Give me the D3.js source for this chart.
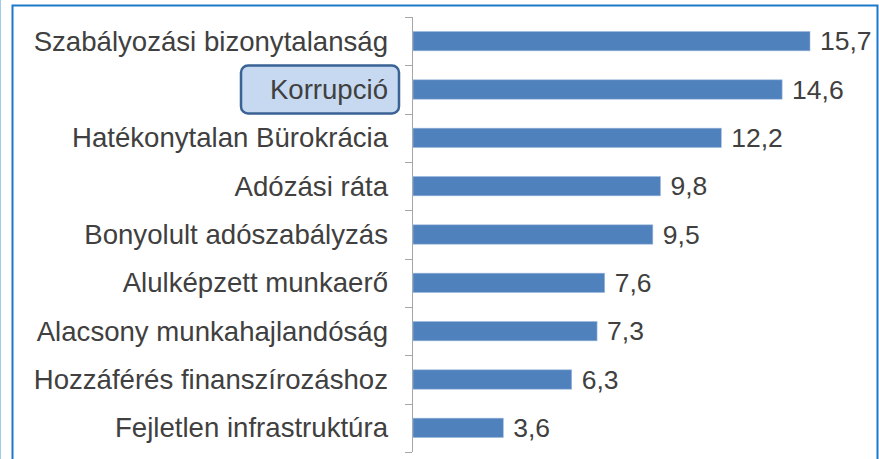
<!DOCTYPE html>
<html><head><meta charset="utf-8">
<script src="https://cdn.jsdelivr.net/npm/d3@7"></script>
<style>html,body{margin:0;padding:0;background:#fff;}svg{display:block;}</style>
</head><body>
<svg id="chart" width="879" height="459"></svg>
<script>
const categories = ["Szabályozási bizonytalanság","Korrupció","Hatékonytalan Bürokrácia","Adózási ráta","Bonyolult adószabályzás","Alulképzett munkaerő","Alacsony munkahajlandóság","Hozzáférés finanszírozáshoz","Fejletlen infrastruktúra"];
const values = [15.7,14.6,12.2,9.8,9.5,7.6,7.3,6.3,3.6];
const highlighted = ["Korrupció"];

const svg = d3.select("#chart");
const W = 879, H = 459;
const axisX = 412;
const font = "'Liberation Sans', Arial, sans-serif";
const textColor = "#404040";

// frame
svg.append("line").attr("x1",0.5).attr("x2",0.5).attr("y1",0).attr("y2",H).attr("stroke","#9fcbef").attr("stroke-width",1);
svg.append("path").attr("d",`M12.5,${H} V5.5 H877.5 V${H}`).attr("fill","none").attr("stroke","#1c78c8").attr("stroke-width",2);

const x = d3.scaleLinear().domain([0,15.7]).range([axisX, 810]);
const y = d3.scaleBand().domain(categories).range([17, 452]).padding(0);
const barH = y.bandwidth()*0.4;

// axis line and ticks at band boundaries
const g = svg.append("g");
g.append("line").attr("x1",axisX+0.5).attr("x2",axisX+0.5).attr("y1",17).attr("y2",452).attr("stroke","#a6a6a6");
const bounds = categories.map(c=>y(c)).concat([y.range()[1]]);
g.selectAll("line.tick").data(bounds).join("line").attr("class","tick")
  .attr("x1",405).attr("x2",axisX).attr("y1",d=>Math.round(d)+0.5).attr("y2",d=>Math.round(d)+0.5)
  .attr("stroke","#a6a6a6");

// bars
svg.selectAll("rect.bar").data(categories).join("rect").attr("class","bar")
  .attr("x",axisX+1).attr("y",c=>y(c)+y.bandwidth()/2-barH/2)
  .attr("width",(c,i)=>x(values[i])-axisX-1).attr("height",barH)
  .attr("fill","#4f81bd").attr("stroke","#9bb7dc").attr("stroke-width",0.6);

// highlight box
highlighted.forEach(h=>{
  svg.append("rect").attr("x",241).attr("y",y(h)+y.bandwidth()/2-24).attr("width",158).attr("height",48)
    .attr("rx",7).attr("fill","#c6d9f1").attr("stroke","#3b6295").attr("stroke-width",2.5);
});

// category labels
svg.selectAll("text.cat").data(categories).join("text").attr("class","cat")
  .attr("x",388).attr("y",c=>y(c)+y.bandwidth()/2).attr("dy","0.35em")
  .attr("text-anchor","end").attr("font-family",font).attr("font-size",27.6).attr("fill",textColor)
  .text(c=>c);

// value labels
svg.selectAll("text.val").data(values).join("text").attr("class","val")
  .attr("x",v=>x(v)+10).attr("y",(v,i)=>y(categories[i])+y.bandwidth()/2).attr("dy","0.35em")
  .attr("font-family",font).attr("font-size",26.5).attr("fill",textColor)
  .text(v=>d3.format(".1f")(v).replace(".",","));
</script>
</body></html>
